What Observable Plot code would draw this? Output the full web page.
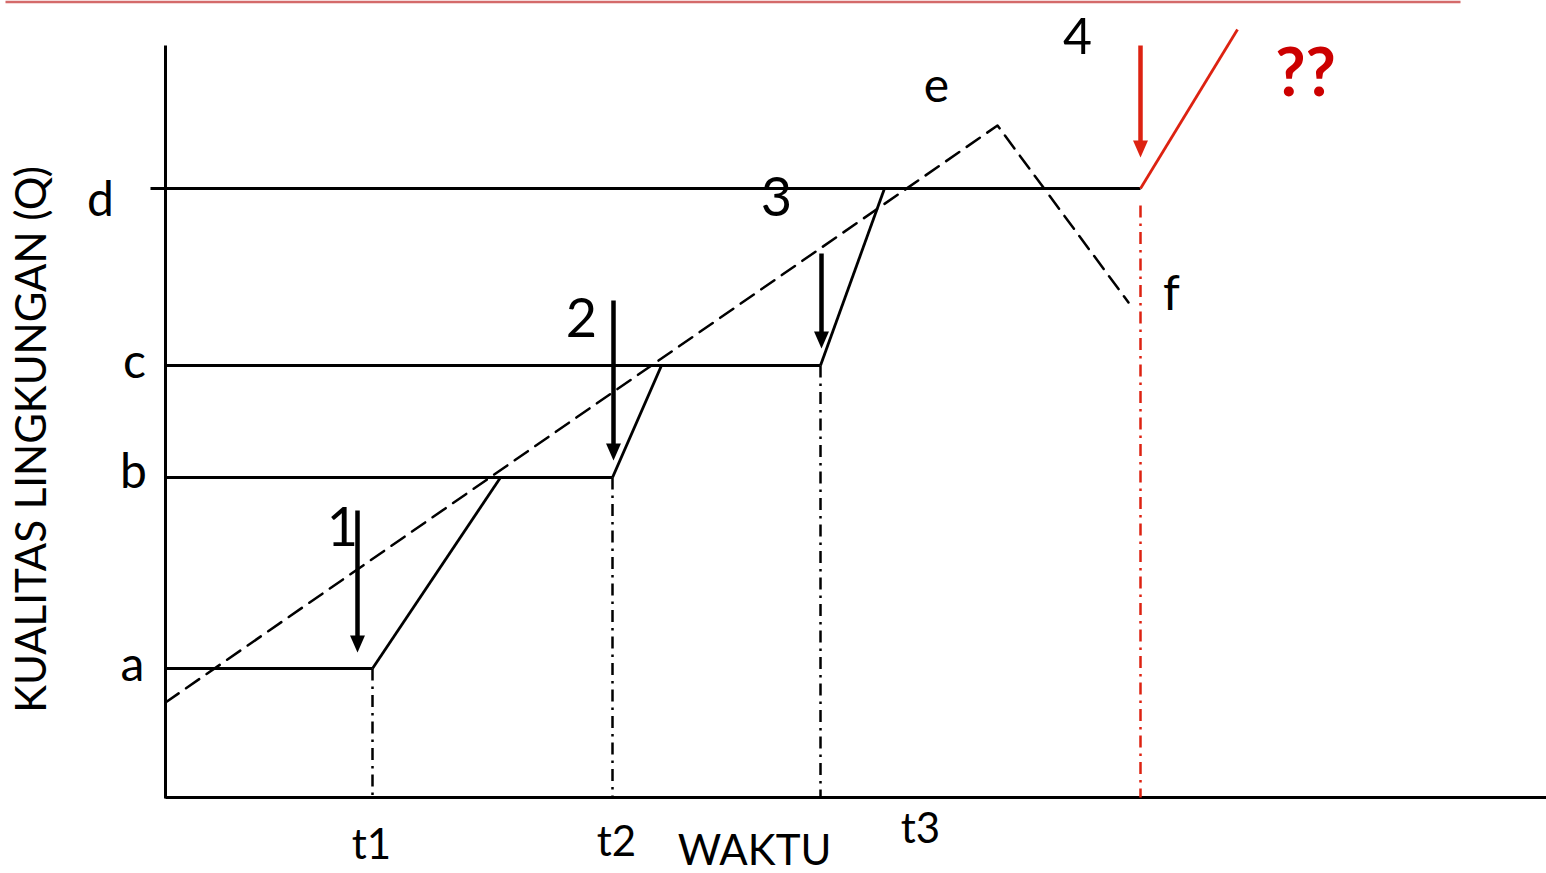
<!DOCTYPE html>
<html>
<head>
<meta charset="utf-8">
<script src="https://cdn.jsdelivr.net/npm/d3@7"></script>
<script src="https://cdn.jsdelivr.net/npm/@observablehq/plot@0.6"></script>
<style>
  html, body { margin: 0; padding: 0; background: #ffffff; }
  #chart svg { display: block; overflow: visible; }
</style>
</head>
<body>
<div id="chart"></div>
<script>
// ---- Data (time along x, environmental quality Q along y) ----
const axisOriginT = 165;          // time origin of the diagram
const axisEndT = 1546;            // end of time axis
const axisBaseQ = 76;             // Q at the time axis
const axisTopQ = 828;             // top of Q axis

const levelNames = ["a", "b", "c", "d"];
const levelQ = [205, 396, 508, 685];
const levelStartT = [165, 165, 165, 150];
const levelEndT = [372, 612, 820, 1140];

const riseEndT = [500, 661, 884];            // each rise goes from level i to level i+1

const timeNames = ["t1", "t2", "t3"];
const timeT = [372, 612, 820];
const timeLabelT = [371, 616, 920];
const timeLabelQ = [15, 18, 31];

const interventionNames = ["1", "2", "3"];
const interventionT = [357, 613, 821];
const interventionTopQ = [363, 573, 620];
const interventionTipQ = [221, 413, 525];
const interventionLabelT = [342, 581, 776];
const interventionLabelQ = [328, 537, 658];

const trendT = [165, 997, 1128];             // dashed trend: rise to e, fall to f
const trendQ = [171, 748, 571];

const futureT = [1140, 1237];                // red "??" path
const futureQ = [685, 844];
const futureArrowT = 1140;
const futureArrowTopQ = 828;
const futureArrowTipQ = 716;
const futureDropTopQ = 668;

const levelLabelT = [132, 133, 134, 100];
const levelLabelQ = [193, 386, 496, 658];
const pointNames = ["e", "f"];
const pointLabelT = [936, 1171];
const pointLabelQ = [772, 564];

const topRuleQ = 871.5;
const topRuleT = [5, 1460];

// ---- Build mark data ----
const levels = levelNames.map((n, i) => ({n, q: levelQ[i], t1: levelStartT[i], t2: levelEndT[i]}));
const rises = riseEndT.map((t, i) => ({t1: levelEndT[i], q1: levelQ[i], t2: t, q2: levelQ[i + 1]}));
const drops = timeT.map((t, i) => ({t, q1: levelQ[i], q2: axisBaseQ}));
const trend = trendT.map((t, i) => ({t, q: trendQ[i]}));
const arrows = interventionT.map((t, i) => ({t, top: interventionTopQ[i], tip: interventionTipQ[i]}));
const redArrow = [{t: futureArrowT, top: futureArrowTopQ, tip: futureArrowTipQ}];
const redRise = [{t1: futureT[0], q1: futureQ[0], t2: futureT[1], q2: futureQ[1]}];
const redDrop = [{t: futureArrowT, q1: futureDropTopQ, q2: axisBaseQ}];

const letterLabels = levelNames.map((n, i) => ({n, t: levelLabelT[i], q: levelLabelQ[i]}))
  .concat(pointNames.map((n, i) => ({n, t: pointLabelT[i], q: pointLabelQ[i]})));
const digitLabels = interventionNames.map((n, i) => ({n, t: interventionLabelT[i], q: interventionLabelQ[i]}));
const stepFourLabel = [{n: "4", t: 1077, q: 820}];
const timeLabels = timeNames.map((n, i) => ({n, t: timeLabelT[i], q: timeLabelQ[i]}));

const BLACK = "#000000";
const RED = "#dd2211";
const DASHDOT = "12,6,2.5,6";

// filled arrowhead with its tip at the anchor point, pointing down
const headDown = {
  draw(ctx) {
    ctx.moveTo(0, 0);
    ctx.lineTo(-7.5, -17);
    ctx.lineTo(7.5, -17);
    ctx.closePath();
  }
};

const FONT = "Lato, 'Open Sans', sans-serif";

const chart = Plot.plot({
  width: 1546,
  height: 873,
  margin: 0,
  style: {fontFamily: FONT, background: "#ffffff", color: BLACK},
  x: {type: "linear", domain: [0, 1546], range: [0, 1546], axis: null},
  y: {type: "linear", domain: [0, 873], range: [873, 0], axis: null},
  marks: [
    // top rule
    Plot.link([{}], {x1: topRuleT[0], x2: topRuleT[1], y1: topRuleQ, y2: topRuleQ, stroke: "#d46a6a", strokeWidth: 2.5}),
    // axes
    Plot.link([{}], {x1: axisOriginT, x2: axisOriginT, y1: axisTopQ, y2: axisBaseQ - 1, stroke: BLACK, strokeWidth: 3}),
    Plot.link([{}], {x1: axisOriginT, x2: axisEndT, y1: axisBaseQ, y2: axisBaseQ, stroke: BLACK, strokeWidth: 3}),
    // dash-dot drops to the time axis
    Plot.link(drops, {x1: "t", x2: "t", y1: "q1", y2: "q2", stroke: BLACK, strokeWidth: 2.5, strokeDasharray: DASHDOT}),
    Plot.link(redDrop, {x1: "t", x2: "t", y1: "q1", y2: "q2", stroke: RED, strokeWidth: 2.5, strokeDasharray: DASHDOT}),
    // quality levels and rises
    Plot.link(levels, {x1: "t1", x2: "t2", y1: "q", y2: "q", stroke: BLACK, strokeWidth: 2.8}),
    Plot.link(rises, {x1: "t1", x2: "t2", y1: "q1", y2: "q2", stroke: BLACK, strokeWidth: 2.8}),
    Plot.link(redRise, {x1: "t1", x2: "t2", y1: "q1", y2: "q2", stroke: RED, strokeWidth: 2.8}),
    // dashed trend
    Plot.line(trend, {x: "t", y: "q", stroke: BLACK, strokeWidth: 2.5, strokeDasharray: "16,9"}),
    // intervention arrows
    Plot.link(arrows, {x1: "t", x2: "t", y1: "top", y2: d => d.tip + 10, stroke: BLACK, strokeWidth: 4.5}),
    Plot.dot(arrows, {x: "t", y: "tip", symbol: headDown, fill: BLACK, stroke: "none", r: 8}),
    Plot.link(redArrow, {x1: "t", x2: "t", y1: "top", y2: d => d.tip + 10, stroke: RED, strokeWidth: 4.5}),
    Plot.dot(redArrow, {x: "t", y: "tip", symbol: headDown, fill: RED, stroke: "none", r: 8}),
    // labels
    Plot.text(letterLabels, {x: "t", y: "q", text: "n", fontSize: 48, fill: BLACK, lineAnchor: "bottom", textAnchor: "middle"}),
    Plot.text(digitLabels, {x: "t", y: "q", text: "n", fontSize: 54, fill: BLACK, lineAnchor: "bottom", textAnchor: "middle"}),
    Plot.text(stepFourLabel, {x: "t", y: "q", text: "n", fontSize: 50, fill: BLACK, lineAnchor: "bottom", textAnchor: "middle"}),
    Plot.text(timeLabels, {x: "t", y: "q", text: "n", fontSize: 42, fill: BLACK, lineAnchor: "bottom", textAnchor: "middle"}),
    Plot.text([{}], {x: 754, y: 9, text: () => "WAKTU", fontSize: 42, fill: BLACK, lineAnchor: "bottom", textAnchor: "middle"}),
    Plot.text([{}], {x: 32, y: 434, text: () => "KUALITAS LINGKUNGAN (Q)", fontSize: 42, fill: BLACK, rotate: -90, lineAnchor: "middle", textAnchor: "middle"}),
    Plot.text([{}], {x: 1305, y: 778, text: () => "??", fontSize: 66, fontWeight: "bold", fill: "#cc0000", lineAnchor: "bottom", textAnchor: "middle"})
  ]
});

document.getElementById("chart").appendChild(chart);
</script>
</body>
</html>
